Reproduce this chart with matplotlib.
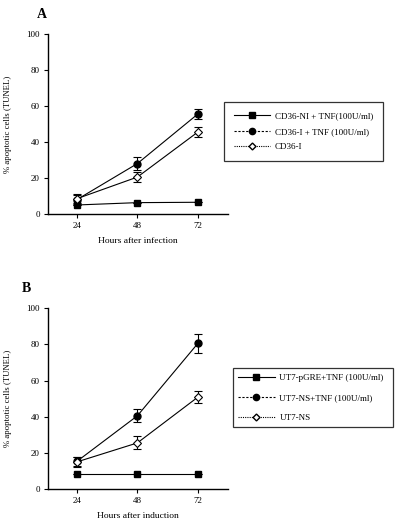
import matplotlib.pyplot as plt
from matplotlib.lines import Line2D

plt.rcParams['font.family'] = ['Liberation Serif', 'DejaVu Serif']

hours = [24, 48, 72]

# panel A
a_labels = ['CD36-NI + TNF(100U/ml)', 'CD36-I + TNF (100U/ml)', 'CD36-I']
a_sq = [5, 6.3, 6.5]
a_sq_err = [0, 0, 0]
a_ci = [8, 28, 55.5]
a_ci_err = [2.5, 3.5, 2.8]
a_di = [8.5, 20.5, 45.5]
a_di_err = [2.5, 2.8, 2.8]

# panel B
b_labels = ['UT7-pGRE+TNF (100U/ml)', 'UT7-NS+TNF (100U/ml)', 'UT7-NS']
b_sq = [8.5, 8.5, 8.5]
b_sq_err = [0, 0, 0]
b_ci = [15.3, 40.5, 80.5]
b_ci_err = [2.5, 3.6, 5]
b_di = [15, 25.5, 50.8]
b_di_err = [2.8, 3.6, 3.5]

fig = plt.figure(figsize=(4, 5.21), dpi=100)

def panel(rect, letter, letter_pos, xlabel, sq, sq_err, ci, ci_err, di, di_err, labels,
          leg_rect, spacing, pad):
    ax = fig.add_axes(rect)
    ax.errorbar(hours, sq, yerr=sq_err, color='black', lw=0.8, marker='s', ms=4.5,
                mfc='black', mec='black', capsize=3, elinewidth=0.8, capthick=0.8)
    ax.errorbar(hours, ci, yerr=ci_err, color='black', lw=0.8, marker='o', ms=5,
                mfc='black', mec='black', capsize=3, elinewidth=0.8, capthick=0.8)
    ax.errorbar(hours, di, yerr=di_err, color='black', lw=0.8, marker='D', ms=4,
                mfc='white', mec='black', mew=0.8, capsize=3, elinewidth=0.8, capthick=0.8)
    ax.set_xlim(12.5, 84)
    ax.set_ylim(0, 100)
    ax.set_xticks(hours)
    ax.set_yticks([0, 20, 40, 60, 80, 100])
    for s in ['top', 'right']:
        ax.spines[s].set_visible(False)
    for s in ['left', 'bottom']:
        ax.spines[s].set_linewidth(1.0)
    ax.tick_params(labelsize=6.5, length=3, width=0.8, direction='out', pad=3)
    ax.set_xlabel(xlabel, fontsize=6.8, labelpad=5)
    ax.set_ylabel('% apoptotic cells (TUNEL)', fontsize=6.3, labelpad=10)
    fig.text(letter_pos[0], letter_pos[1], letter, fontsize=10, fontweight='bold',
             ha='left', va='center')

    handles = [
        Line2D([], [], color='black', lw=0.8, ls='-', marker='s', ms=4.5, mfc='black'),
        Line2D([], [], color='black', lw=0.8, ls=(0, (2, 1.5)), marker='o', ms=4.5, mfc='black'),
        Line2D([], [], color='black', lw=0.8, ls=(0, (1, 1)), marker='D', ms=3.5, mfc='white'),
    ]
    leg = fig.legend(handles, labels, loc='upper left', bbox_to_anchor=leg_rect,
                     frameon=True, fancybox=False, fontsize=6.5, handlelength=4.0,
                     handletextpad=0.55, labelspacing=spacing, borderpad=pad, mode='expand',
                     edgecolor='black', borderaxespad=0)
    leg.get_frame().set_linewidth(0.9)
    return ax

panel([0.12, 0.5893, 0.45, 0.3455], 'A', (0.092, 0.973), 'Hours after infection',
      a_sq, a_sq_err, a_ci, a_ci_err, a_di, a_di_err, a_labels,
      (224 / 400, 1 - 163 / 521, 159 / 400, 61 / 521), 0.8, 1.1)
panel([0.12, 0.0614, 0.45, 0.347], 'B', (0.055, 1 - 288 / 521), 'Hours after induction',
      b_sq, b_sq_err, b_ci, b_ci_err, b_di, b_di_err, b_labels,
      (233 / 400, 1 - 429 / 521, 160 / 400, 61 / 521), 1.3, 0.6)

fig.savefig('out.png', dpi=100)
